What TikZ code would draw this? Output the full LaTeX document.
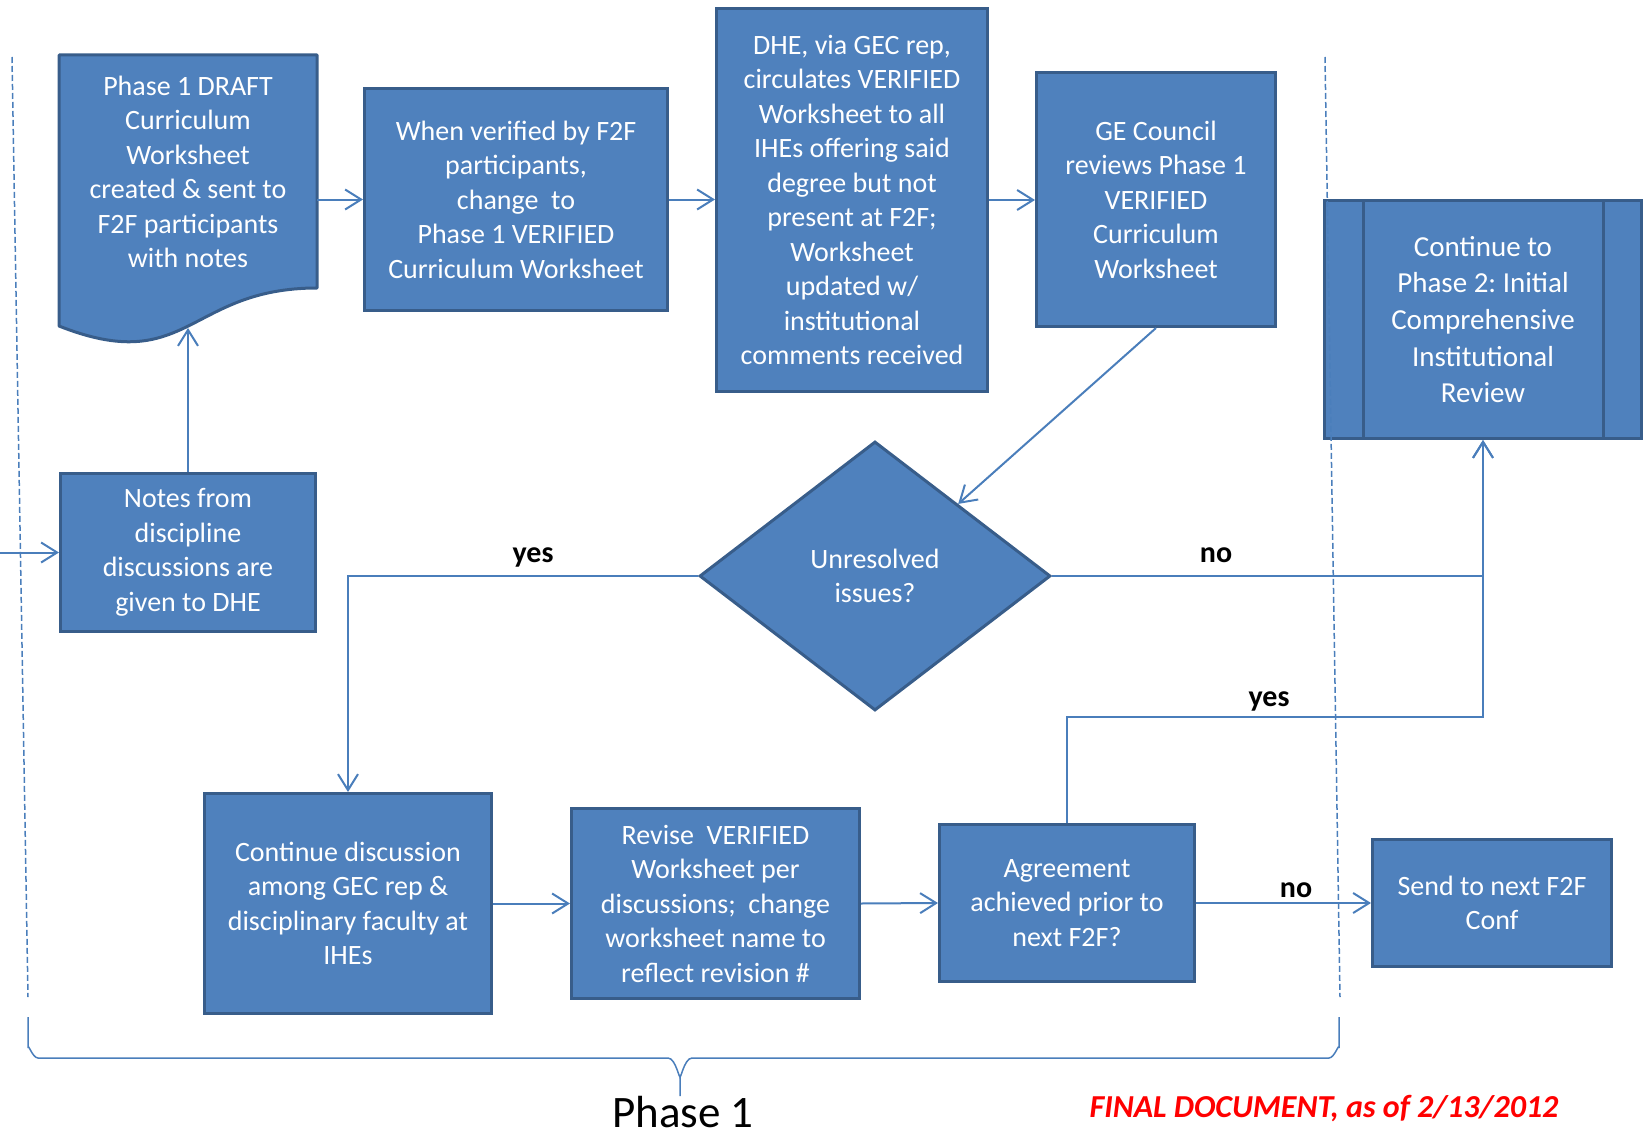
\documentclass[tikz,border=0pt]{standalone}
\usepackage{fontspec}
\setmainfont{Carlito}
\usetikzlibrary{shapes.geometric,arrows.meta,calc}
\definecolor{boxblue}{RGB}{79,129,189}
\definecolor{edgeblue}{RGB}{56,93,138}
\definecolor{lineblue}{RGB}{74,126,187}
\definecolor{finalred}{RGB}{255,0,0}
\tikzset{
  flowbox/.style={draw=edgeblue, fill=boxblue, line width=3pt, text=white,
    align=center, inner sep=0pt, font=\fontsize{28}{34.5}\selectfont},
  decision/.style={flowbox, diamond, aspect=1.3},
  conn/.style={draw=lineblue, line width=2pt, -{Straight Barb[length=16pt,width=20pt]}},
  answer/.style={anchor=base, font=\fontsize{30}{36}\selectfont\bfseries},
  phaseline/.style={draw=lineblue, line width=1.5pt, dash pattern=on 6pt off 3pt},
}

\begin{document}
\frenchspacing
\begin{tikzpicture}[x=1pt,y=-1pt]
\useasboundingbox (0,0) rectangle (1644,1140);

% Draft worksheet (document shape)
\draw[edgeblue, fill=boxblue, line width=3pt, line join=round]
  (59,55) -- (317,55) -- (317,288) .. controls (188,288) and (188,377) .. (59,326) -- cycle;
\node[text=white, align=center, inner sep=0pt, minimum width=258pt,
  font=\fontsize{28}{34.5}\selectfont] (draft) at (188,172)
  {Phase 1 DRAFT\\Curriculum\\Worksheet\\created \& sent to\\F2F participants\\with notes};
\coordinate (draftfoot) at (188,328);

% Top row
\node[flowbox, minimum width=303pt, minimum height=222pt] (verify) at (516,199.5)
  {When verified by F2F\\participants,\\change~ to\\Phase 1 VERIFIED\\Curriculum Worksheet};
\node[flowbox, minimum width=271pt, minimum height=383pt] (circulate) at (852,200)
  {DHE, via GEC rep,\\circulates VERIFIED\\Worksheet to all\\IHEs offering said\\degree but not\\present at F2F;\\Worksheet\\updated w/\\institutional\\comments received};
\node[flowbox, minimum width=239pt, minimum height=254pt] (council) at (1156,199.5)
  {GE Council\\reviews Phase 1\\VERIFIED\\Curriculum\\Worksheet};

% Phase 2 (predefined process)
\node[flowbox, minimum width=317pt, minimum height=238pt,
  font=\fontsize{29}{36.7}\selectfont] (phase2) at (1483,319.5)
  {Continue to\\Phase 2: Initial\\Comprehensive\\Institutional\\Review};
\draw[edgeblue, line width=3pt] ($(phase2.north west)+(40,0)$) -- ($(phase2.south west)+(40,0)$);
\draw[edgeblue, line width=3pt] ($(phase2.north east)+(-40,0)$) -- ($(phase2.south east)+(-40,0)$);

% Middle row
\node[flowbox, minimum width=255pt, minimum height=158pt] (notes) at (188,552.5)
  {Notes from\\discipline\\discussions are\\given to DHE};
\node[decision, minimum width=351pt, minimum height=269pt] (issues) at (875,576)
  {Unresolved\\issues?};
\coordinate (entry) at (0,552.5);

% Bottom row
\node[flowbox, minimum width=287pt, minimum height=220pt] (discuss) at (348,903.5)
  {Continue discussion\\among GEC rep \&\\disciplinary faculty at\\IHEs};
\node[flowbox, minimum width=288pt, minimum height=190pt] (revise) at (715.5,903.5)
  {Revise~ VERIFIED\\Worksheet per\\discussions;~ change\\worksheet name to\\reflect revision \#};
\node[flowbox, minimum width=255pt, minimum height=157pt] (agree) at (1067,903)
  {Agreement\\achieved prior to\\next F2F?};
\node[flowbox, minimum width=239pt, minimum height=127pt] (send) at (1492,903)
  {Send to next F2F\\Conf};
\coordinate (yesrow) at (0,717);

% Connectors
\draw[conn] (entry) -- (notes.west);
\draw[conn] (notes.north) -- (draftfoot);
\draw[conn] (draft.east |- verify.west) -- (verify.west);
\draw[conn] (verify.east) -- (verify.east -| circulate.west);
\draw[conn] (circulate.east) -- (circulate.east -| council.west);
\draw[conn] (council.south) -- ($(issues.north)!0.47!(issues.east)$);
\draw[conn] (issues.west) -| (discuss.north);
\draw[conn] (issues.east) -| (phase2.south);
\draw[conn] (discuss.east) -- (revise.west);
\draw[conn] (revise.east) -- (agree.west);
\draw[conn] (agree.east) -- (send.west);
\draw[conn] (agree.north) -- (agree.north |- yesrow) -| (phase2.south);

% Answers
\node[answer] (yesleft) at (533,562) {yes};
\node[answer] (noright) at (1216,562) {no};
\node[answer] (yesup) at (1269,706) {yes};
\node[answer] (nosend) at (1296,897) {no};

% Phase 1 bounds and brace
\draw[phaseline] (12,57) -- (28,997);
\draw[phaseline] (1325,57) -- (1340,997);
\draw[lineblue, line width=1.5pt]
  (28,1017) -- (28,1048) to[out=90,in=180] (38,1058) -- (668,1058)
  to[out=0,in=-90] (680,1075) -- (680,1096);
\draw[lineblue, line width=1.5pt]
  (680,1075) to[out=-90,in=180] (692,1058) -- (1329,1058)
  to[out=0,in=90] (1339,1048) -- (1339,1017);
\node[anchor=base, inner sep=0pt, font=\fontsize{45}{50}\selectfont] (phaseone) at (683,1127) {Phase 1};

% Status
\node[anchor=base, inner sep=0pt, text=finalred, font=\fontsize{32}{38}\selectfont\bfseries\itshape]
  (status) at (1324,1117) {FINAL DOCUMENT, as of 2/13/2012};

\end{tikzpicture}
\end{document}
